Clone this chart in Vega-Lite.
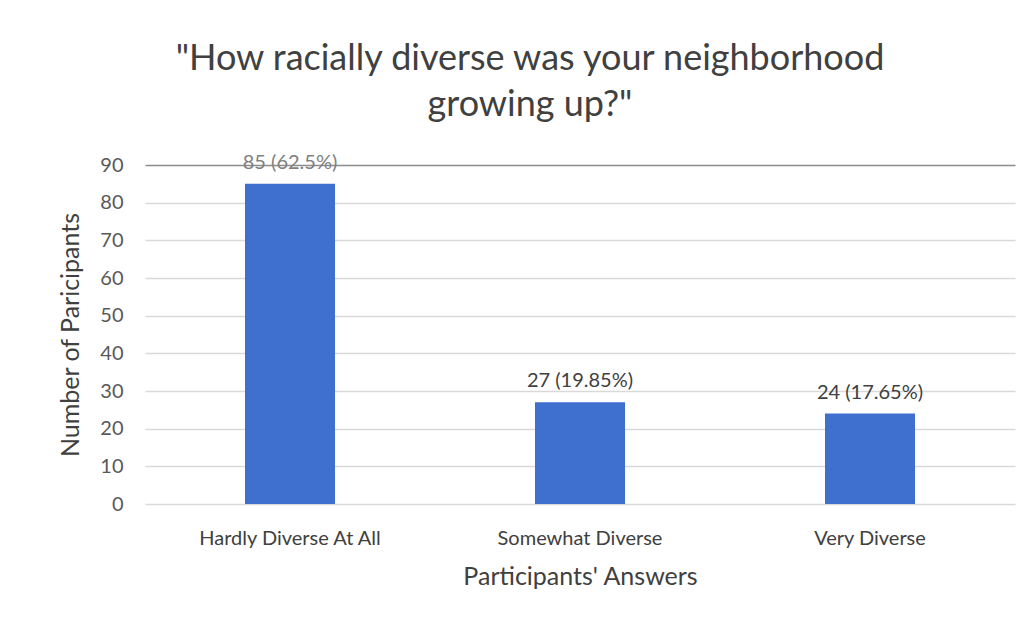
{
  "$schema": "https://vega.github.io/schema/vega-lite/v6.json",
  "autosize": "none",
  "width": 870,
  "height": 339,
  "padding": {"left": 145, "top": 165, "right": 19, "bottom": 123},
  "background": "white",
  "title": {
    "text": ["\"How racially diverse was your neighborhood", "growing up?\""],
    "fontSize": 36,
    "font": "Lato",
    "fontWeight": "normal",
    "color": "#404040",
    "anchor": "middle",
    "dx": -50,
    "offset": 29,
    "lineHeight": 46
  },
  "data": {
    "values": [
      {"answer": "Hardly Diverse At All", "count": 85, "label": "85 (62.5%)"},
      {"answer": "Somewhat Diverse", "count": 27, "label": "27 (19.85%)"},
      {"answer": "Very Diverse", "count": 24, "label": "24 (17.65%)"}
    ]
  },
  "encoding": {
    "x": {
      "field": "answer",
      "type": "nominal",
      "sort": null,
      "title": "Participants' Answers",
      "axis": {
        "labelAngle": 0,
        "labelLimit": 400,
        "labelFont": "Lato",
        "labelFontSize": 20,
        "labelColor": "#404040",
        "labelPadding": 24,
        "titleFont": "Lato",
        "titleFontSize": 25,
        "titleFontWeight": "normal",
        "titleColor": "#404040",
        "titlePadding": 16,
        "domain": false,
        "ticks": false
      }
    },
    "y": {
      "field": "count",
      "type": "quantitative",
      "scale": {"domain": [0, 90]},
      "title": "Number of Paricipants",
      "axis": {
        "values": [0, 10, 20, 30, 40, 50, 60, 70, 80, 90],
        "labelFont": "Lato",
        "labelFontSize": 20,
        "labelColor": "#595959",
        "labelPadding": 22,
        "titleFont": "Lato",
        "titleFontSize": 25,
        "titleFontWeight": "normal",
        "titleColor": "#404040",
        "titlePadding": 16,
        "domain": false,
        "ticks": false,
        "gridColor": {"condition": {"test": "datum.value === 90", "value": "#8c8c8c"}, "value": "#d9d9d9"},
        "gridWidth": 1.5
      }
    }
  },
  "layer": [
    {"mark": {"type": "bar", "color": "#4070cf", "size": 90}},
    {
      "mark": {"type": "text", "baseline": "bottom", "dy": -11, "font": "Lato", "fontSize": 20},
      "encoding": {
        "text": {"field": "label"},
        "color": {
          "condition": {"test": "datum.count === 85", "value": "#7f7f7f"},
          "value": "#404040"
        }
      }
    }
  ],
  "config": {"view": {"stroke": null}}
}
